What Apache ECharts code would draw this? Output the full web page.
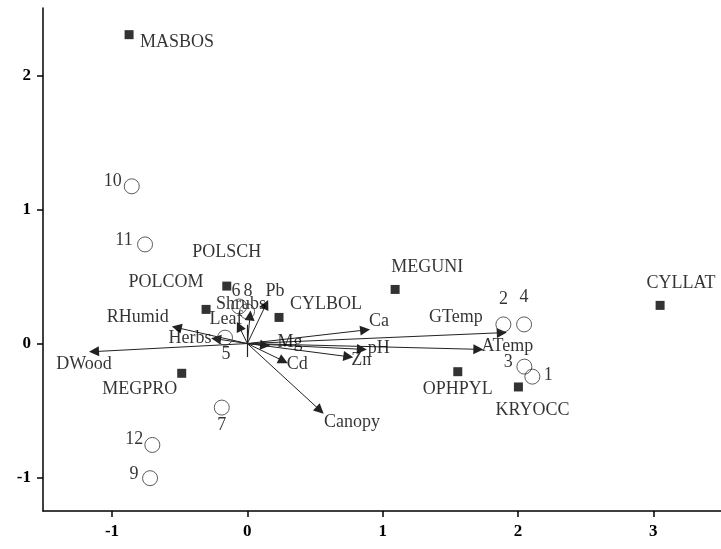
<!DOCTYPE html>
<html>
<head>
<meta charset="utf-8">
<script src="https://cdn.jsdelivr.net/npm/echarts@6/dist/echarts.min.js"></script>
<style>html,body{margin:0;padding:0;background:#fff}#c{width:721px;height:549px}</style>
</head>
<body>
<div id="c"></div>
<script>
// ---- data ----
const speciesNames = ['MASBOS','POLSCH','POLCOM','CYLBOL','MEGUNI','OPHPYL','KRYOCC','CYLLAT','MEGPRO'];
const speciesX = [-0.874,-0.152,-0.305,0.234,1.092,1.555,2.003,3.050,-0.485];
const speciesY = [2.306,0.429,0.255,0.195,0.404,-0.210,-0.324,0.285,-0.222];

const siteNames = ['1','2','3','4','5','6','7','8','9','10','11','12'];
const siteX = [2.106,1.892,2.047,2.045,-0.165,-0.061,-0.189,-0.002,-0.719,-0.854,-0.756,-0.702];
const siteY = [-0.247,0.143,-0.172,0.143,0.044,0.277,-0.478,0.240,-1.005,1.174,0.740,-0.757];

const envNames = ['DWood','RHumid','Herbs','Leaf','Shrubs','Pb','Mg','Cd','Canopy','Ca','pH','Zn','GTemp','ATemp'];
const envX = [-1.133,-0.522,-0.231,-0.061,0.020,0.138,0.131,0.266,0.537,0.870,0.846,0.746,1.880,1.707];
const envY = [-0.060,0.119,0.035,0.128,0.210,0.292,-0.013,-0.130,-0.498,0.101,-0.043,-0.098,0.081,-0.043];

const xTicks = [-1,0,1,2,3];
const yTicks = [-1,0,1,2];

// ---- label placement (pixel offsets, style only) ----
const speciesLabelOffset = {
  MASBOS:[48,8], POLSCH:[0,-34], POLCOM:[-40,-27], CYLBOL:[47,-13], MEGUNI:[32,-22],
  OPHPYL:[0,18], KRYOCC:[14,23], CYLLAT:[21,-22], MEGPRO:[-42,16]
};
const siteLabelOffset = {
  '1':[16,-1], '2':[0,-25], '3':[-16,-4], '4':[0,-27], '5':[1,17], '6':[-3,-15],
  '7':[0,18], '8':[1,-20], '9':[-16,-4], '10':[-19,-5], '11':[-21,-4], '12':[-18,-6]
};
const envLabelOffset = {
  DWood:[-10,13], RHumid:[-39,-10], Herbs:[-26,-1], Leaf:[-13,-7], Shrubs:[-9,-11],
  Pb:[9,-13], Mg:[25,-3], Cd:[14,3], Canopy:[32,12], Ca:[14,-9], pH:[17,-1], Zn:[13,4],
  GTemp:[-46,-15], ATemp:[29,-3]
};

const FONT = '"Liberation Serif","Times New Roman",serif';
const textStyle = {color:'#000', fontFamily:FONT, fontSize:18};

const chart = echarts.init(document.getElementById('c'), null, {renderer:'canvas'});

const arrowData = envNames.map((n,i)=>({name:n, coords:[[0,0],[envX[i],envY[i]]]}));

chart.setOption({
  animation:false,
  backgroundColor:'#fff',
  grid:{left:43, right:0, top:8, bottom:38, containLabel:false},
  xAxis:{
    type:'value', min:-1.51, max:3.5,
    axisLine:{show:true, onZero:false, lineStyle:{color:'#000', width:1.5}},
    axisTick:{show:true, length:6, customValues:xTicks, lineStyle:{color:'#000', width:1.5}},
    axisLabel:{customValues:xTicks, color:'#000', fontFamily:FONT, fontWeight:'bold', fontSize:17, margin:12},
    splitLine:{show:false}
  },
  yAxis:{
    type:'value', min:-1.25, max:2.505,
    axisLine:{show:true, onZero:false, lineStyle:{color:'#000', width:1.5}},
    axisTick:{show:true, length:6, customValues:yTicks, lineStyle:{color:'#000', width:1.5}},
    axisLabel:{customValues:yTicks, color:'#000', fontFamily:FONT, fontWeight:'bold', fontSize:17, margin:12},
    splitLine:{show:false}
  },
  series:[
    {
      type:'lines', coordinateSystem:'cartesian2d', silent:true,
      symbol:['none','path://M0,0L3,10L-3,10Z'], symbolSize:10, symbolKeepAspect:true,
      symbolOffset:[[0,0],[0,5]],
      lineStyle:{color:'#222', width:1, opacity:1},
      data: arrowData, z:2
    },
    {
      type:'lines', coordinateSystem:'cartesian2d', silent:true, symbol:'none',
      lineStyle:{color:'#222', width:1.2, opacity:1},
      data:[{coords:[[0,0.14],[0,-0.1]]}], z:2
    },
    {
      type:'scatter', symbol:'circle', symbolSize:1, silent:true,
      itemStyle:{color:'rgba(0,0,0,0)'},
      data: envNames.map((n,i)=>({name:n, value:[envX[i],envY[i]],
        label:{offset:envLabelOffset[n]}})),
      label:Object.assign({show:true, position:'inside', formatter:'{b}'}, textStyle),
      z:4
    },
    {
      type:'scatter', symbol:'circle', symbolSize:15,
      itemStyle:{color:'rgba(255,255,255,0)', borderColor:'#333', borderWidth:1},
      data: siteNames.map((n,i)=>({name:n, value:[siteX[i],siteY[i]],
        label:{offset:siteLabelOffset[n]}})),
      label:Object.assign({show:true, position:'inside', formatter:'{b}'}, textStyle),
      z:3
    },
    {
      type:'scatter', symbol:'rect', symbolSize:9,
      itemStyle:{color:'#000'},
      data: speciesNames.map((n,i)=>({name:n, value:[speciesX[i],speciesY[i]],
        label:{offset:speciesLabelOffset[n]}})),
      label:Object.assign({show:true, position:'inside', formatter:'{b}'}, textStyle),
      z:3
    }
  ]
});
</script>
</body>
</html>
